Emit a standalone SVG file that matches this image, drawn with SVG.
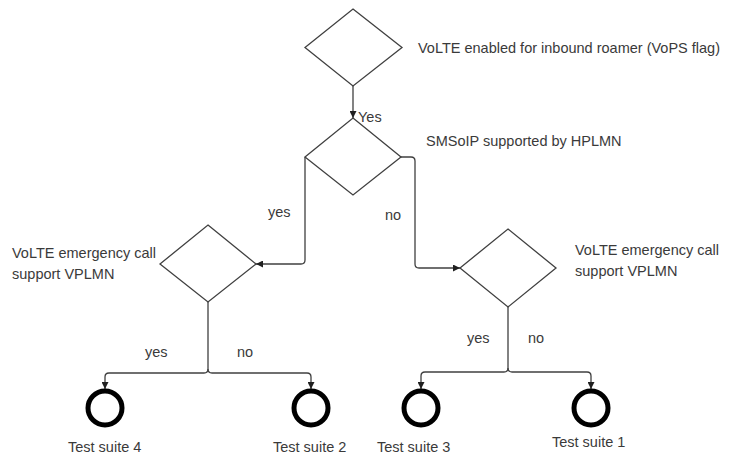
<svg xmlns="http://www.w3.org/2000/svg" width="731" height="454" viewBox="0 0 731 454">
<style>
.d{fill:#fff;stroke:#404040;stroke-width:1.3}
.c{fill:none;stroke:#404040;stroke-width:1.3}
.e{fill:none;stroke:#000;stroke-width:5}
text{font-family:"Liberation Sans",Arial,sans-serif;font-size:14.5px;fill:#3a3a3a}
</style>
<defs>
<marker id="ah" viewBox="0 0 10 10" refX="10" refY="5" markerWidth="7" markerHeight="7" markerUnits="userSpaceOnUse" orient="auto">
<path d="M0,0 L10,5 L0,10 z" fill="#202020"/>
</marker>
</defs>
<rect width="731" height="454" fill="#fff"/>
<g id="connectors">
<path class="c" d="M353,86 L353,118" marker-end="url(#ah)"/>
<path class="c" d="M305,157 L305,260 Q305,264 301,264 L256,264" marker-end="url(#ah)"/>
<path class="c" d="M401,157 L411,157 Q415,157 415,161 L415,264 Q415,268 419,268 L460,268" marker-end="url(#ah)"/>
<path class="c" d="M208,302 L208,369 Q208,373 204,373 L109,373 Q105,373 105,377 L105,389" marker-end="url(#ah)"/>
<path class="c" d="M208,369 Q208,373 212,373 L307,373 Q311,373 311,377 L311,389" marker-end="url(#ah)"/>
<path class="c" d="M508,307 L508,368 Q508,372 504,372 L425,372 Q421,372 421,376 L421,389" marker-end="url(#ah)"/>
<path class="c" d="M508,368 Q508,372 512,372 L587,372 Q591,372 591,376 L591,389" marker-end="url(#ah)"/>
<text x="358" y="122">Yes</text>
<text x="268" y="217">yes</text>
<text x="385" y="220">no</text>
<text x="145" y="357">yes</text>
<text x="237" y="357">no</text>
<text x="467" y="343">yes</text>
<text x="528" y="343">no</text>
</g>
<g id="d-volte">
<polygon class="d" points="353,9 402,47.5 353,86 305,47.5"/>
<text x="418" y="53">VoLTE enabled for inbound roamer (VoPS flag)</text>
</g>
<g id="d-smsoip">
<polygon class="d" points="353,118 401,157 353,195 305,157"/>
<text x="426" y="146">SMSoIP supported by HPLMN</text>
</g>
<g id="d-emerg-left">
<polygon class="d" points="208,225 256,264 208,302 160,264"/>
<text x="12" y="258">VoLTE emergency call</text>
<text x="12" y="279">support VPLMN</text>
</g>
<g id="d-emerg-right">
<polygon class="d" points="508,229 556,268 508,307 460,268"/>
<text x="575" y="255">VoLTE emergency call</text>
<text x="575" y="276">support VPLMN</text>
</g>
<g id="ts4"><circle class="e" cx="105" cy="408" r="17"/><text x="68" y="452">Test suite 4</text></g>
<g id="ts2"><circle class="e" cx="311" cy="408" r="17"/><text x="273" y="452">Test suite 2</text></g>
<g id="ts3"><circle class="e" cx="421" cy="408" r="17"/><text x="377" y="452">Test suite 3</text></g>
<g id="ts1"><circle class="e" cx="591" cy="408" r="17"/><text x="552" y="447">Test suite 1</text></g>
</svg>
